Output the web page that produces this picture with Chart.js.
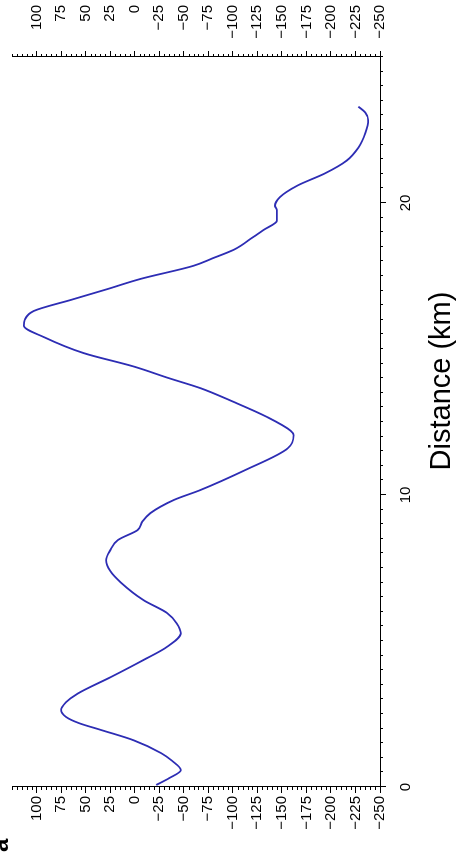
<!DOCTYPE html>
<html>
<head>
<meta charset="utf-8">
<script src="https://cdn.jsdelivr.net/npm/chart.js@4.4.1/dist/chart.umd.min.js"></script>
<style>
  html, body { margin: 0; padding: 0; background: #fff; overflow: hidden; }
  /* the figure is drawn upright, then turned a quarter turn to the left */
  #frame {
    position: absolute;
    left: 0;
    top: 0;
    width: 852px;
    height: 466px;
    transform-origin: 0 0;
    transform: translate(0, 852px) rotate(-90deg);
  }
</style>
</head>
<body>
<div id="frame"><canvas id="profileChart" width="852" height="466"></canvas></div>
<script>
const distanceKm = [
    0.07, 0.3, 0.58, 0.9, 1.16, 1.6, 1.95, 2.19, 2.4, 2.64,
    2.9, 3.2, 3.77, 4.35, 4.8, 5.27, 5.6, 5.96, 6.4, 7.0,
    7.4, 7.77, 8.1, 8.46, 8.8, 9.1, 9.38, 9.83, 10.17, 10.86,
    11.6, 12.05, 12.2, 12.67, 13.2, 13.66, 14.0, 14.4, 14.86, 15.4,
    15.8, 16.0, 16.3, 16.7, 17.05, 17.4, 17.85, 18.1, 18.4, 18.84,
    19.07, 19.4, 19.76, 19.9, 20.2, 20.6, 21.0, 21.45, 21.9, 22.4,
    22.84, 23.1, 23.3
];
const profileValues = [
    -22, -35, -47, -38, -27, 1, 34, 57, 70, 75,
    70, 58, 24, -9, -33, -47, -43, -33, -9, 14,
    25, 29, 25, 17, -3, -8, -16, -40, -67, -113,
    -156, -162, -159, -135, -100, -67, -35, 1, 52, 92,
    113, 112, 103, 63, 28, -6, -60, -79, -101, -121,
    -131, -145, -145, -143, -148, -166, -193, -216, -228, -235,
    -238, -235, -228
];
const valueTickLabels = [100, 75, 50, 25, 0, -25, -50, -75, -100, -125, -150, -175, -200, -225, -250];
const distanceTickLabels = [0, 10, 20];

const fmt = (v) => (v < 0 ? '\u2212' + Math.abs(v) : String(v));
const isValueMajor = (v) => valueTickLabels.includes(v);
const isDistMajor = (v) => distanceTickLabels.includes(v);

Chart.defaults.font.family = '"Liberation Sans", Arial, sans-serif';
Chart.defaults.color = '#000';

const tickFont = { size: 15 };

// short ticks for the unlabelled steps
const minorTicks = {
    id: 'minorTicks',
    afterDraw(chart) {
        const { ctx, chartArea } = chart;
        ctx.save();
        ctx.strokeStyle = '#000';
        ctx.lineWidth = 1;
        ctx.beginPath();
        ['yLeft', 'yRight'].forEach((id) => {
            const scale = chart.scales[id];
            scale.ticks.forEach((t) => {
                if (isValueMajor(t.value)) return;
                const py = Math.round(scale.getPixelForValue(t.value)) + 0.5;
                if (id === 'yLeft') {
                    ctx.moveTo(chartArea.left, py);
                    ctx.lineTo(chartArea.left - 3, py);
                } else {
                    ctx.moveTo(chartArea.right, py);
                    ctx.lineTo(chartArea.right + 3, py);
                }
            });
        });
        const xs = chart.scales.x;
        xs.ticks.forEach((t) => {
            if (isDistMajor(t.value)) return;
            const px = Math.round(xs.getPixelForValue(t.value)) + 0.5;
            ctx.moveTo(px, chartArea.bottom);
            ctx.lineTo(px, chartArea.bottom + 3);
        });
        ctx.stroke();

        ctx.fillStyle = '#000';
        ctx.font = '29px "Liberation Sans", Arial, sans-serif';
        ctx.textAlign = 'center';
        ctx.textBaseline = 'alphabetic';
        ctx.fillText('Distance (km)', 471, 450);

        ctx.font = 'bold 24px "Liberation Sans", Arial, sans-serif';
        ctx.textAlign = 'left';
        ctx.fillText('a', 0, 8);
        ctx.restore();
    }
};

const valueAxis = (position) => ({
    type: 'linear',
    position,
    display: true,
    min: -250,
    max: 125,
    grid: {
        drawOnChartArea: false,
        tickLength: 6,
        tickColor: (c) => (isValueMajor(c.tick.value) ? '#000' : 'rgba(0,0,0,0)'),
    },
    border: { display: true, color: '#000', width: 1 },
    ticks: {
        stepSize: 5,
        autoSkip: false,
        font: tickFont,
        padding: 3,
        crossAlign: position === 'right' ? 'far' : 'near',
        callback: (v) => (isValueMajor(v) ? fmt(v) : ''),
    },
    afterFit: (scale) => {
        scale.width = position === 'right' ? 52 : 65;
    },
});

new Chart(document.getElementById('profileChart'), {
    type: 'line',
    data: {
        datasets: [{
            data: distanceKm.map((d, i) => ({ x: d, y: profileValues[i] })),
            borderColor: '#2d2db4',
            borderWidth: 1.8,
            pointRadius: 0,
            cubicInterpolationMode: 'monotone',
            fill: false,
            yAxisID: 'yLeft',
        }],
    },
    options: {
        responsive: false,
        animation: false,
        devicePixelRatio: 1,
        layout: { padding: { top: 11, right: 5, left: 0, bottom: 0 } },
        plugins: {
            legend: { display: false },
            tooltip: { enabled: false },
        },
        scales: {
            x: {
                type: 'linear',
                position: 'bottom',
                min: 0,
                max: 25,
                grid: {
                    drawOnChartArea: false,
                    tickLength: 6,
                    tickColor: (c) => (isDistMajor(c.tick.value) ? '#000' : 'rgba(0,0,0,0)'),
                },
                border: { display: true, color: '#000', width: 1 },
                ticks: {
                    stepSize: 0.5,
                    autoSkip: false,
                    maxRotation: 0,
                    font: tickFont,
                    padding: 11,
                    callback: (v) => (isDistMajor(v) ? String(v) : ''),
                },
                afterFit: (scale) => {
                    scale.height = 86;
                },
            },
            yLeft: valueAxis('left'),
            yRight: valueAxis('right'),
        },
    },
    plugins: [minorTicks],
});
</script>
</body>
</html>
